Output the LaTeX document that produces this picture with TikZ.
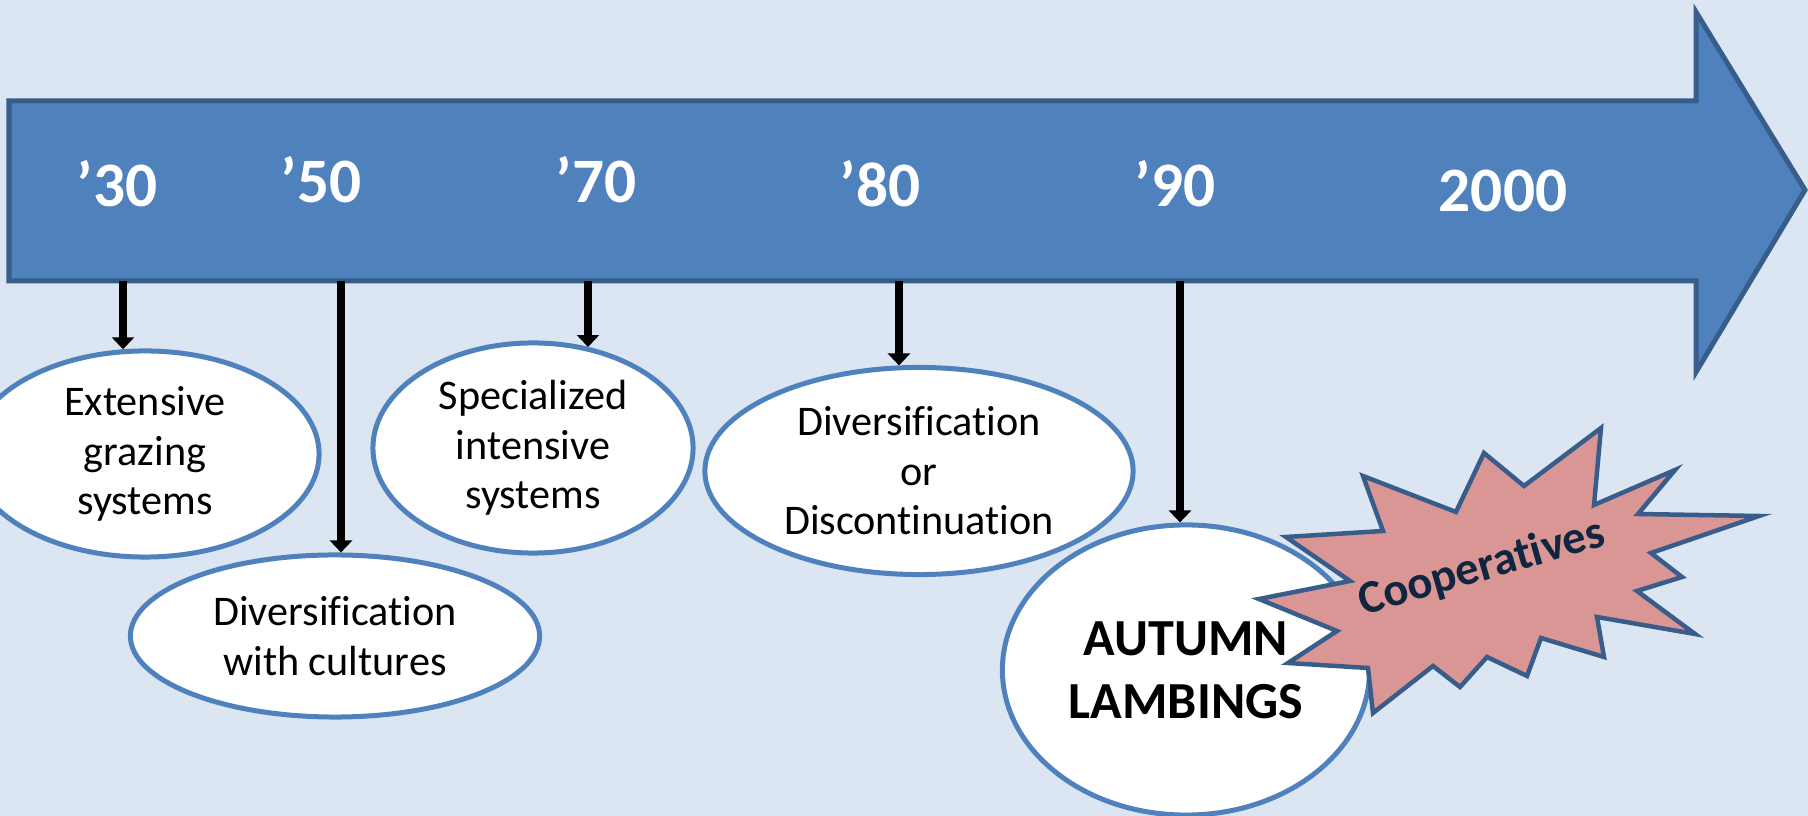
\documentclass[tikz,border=0pt]{standalone}
\usepackage{fontspec}
\setmainfont{Carlito}[Ligatures=NoCommon]
\usetikzlibrary{shapes.geometric,arrows.meta}
\definecolor{pagebg}{HTML}{DCE6F2}
\definecolor{barblue}{HTML}{4F81BD}
\definecolor{bardark}{HTML}{385D8A}
\definecolor{burstred}{HTML}{D99694}
\definecolor{navytext}{HTML}{10253F}

\begin{document}
\begin{tikzpicture}[x=0.01cm,y=-0.01cm,
  year/.style={anchor=base,text=white,font=\fontsize{18}{18}\selectfont\bfseries},
  period/.style={ellipse,draw=barblue,line width=0.05cm,fill=white,inner sep=0pt,
    align=center,font=\fontsize{12}{14.1}\selectfont},
  drop/.style={line width=0.08cm,-{Triangle[length=0.12cm,width=0.22cm]}}]
\fill[pagebg] (0,0) rectangle (1808,816);
\useasboundingbox (0,0) rectangle (1808,816);
% time arrow
\draw[fill=barblue,draw=bardark,line width=0.05cm]
  (9,101) -- (1696,101) -- (1696,12) -- (1805,190) -- (1696,372) -- (1696,281) -- (9,281) -- cycle;
\node[year] (y30) at (117,207) {’30};
\node[year] (y50) at (321,203) {’50};
\node[year] (y70) at (596,203) {’70};
\node[year] (y80) at (880,207) {’80};
\node[year] (y90) at (1175,207) {’90};
\node[year] (y00) at (1503,212) {2000};
\coordinate (t30) at (123,281);
\coordinate (t50) at (341,281);
\coordinate (t70) at (588,281);
\coordinate (t80) at (899,281);
\coordinate (t90) at (1180,281);
% periods
\node[period,minimum width=3.48cm,minimum height=2.06cm] (e30) at (145,454) {Extensive\\grazing\\systems};
\node[period,minimum width=4.09cm,minimum height=1.62cm] (e50) at (335,636) {Diversification\\with cultures};
\node[period,minimum width=3.20cm,minimum height=2.10cm] (e70) at (533,448) {Specialized\\intensive\\systems};
\node[period,minimum width=4.28cm,minimum height=2.07cm] (e80) at (919,471) {Diversification\\or\\Discontinuation};
\node[period,minimum width=3.67cm,minimum height=2.90cm,font=\fontsize{14.8}{18}\selectfont\bfseries] (e90) at (1186,670) {AUTUMN\\LAMBINGS};
\draw[drop] (t30) -- (t30 |- e30.102);
\draw[drop] (t50) -- (t50 |- e50.north);
\draw[drop] (t70) -- (t70 |- e70.61);
\draw[drop] (t80) -- (t80 |- e80.101);
\draw[drop] (t90) -- (t90 |- e90.north);
% burst
\draw[fill=burstred,draw=bardark,line width=0.045cm]
  (1259,599) -- (1350,581) -- (1286,537) -- (1383,531) -- (1363,476) -- (1456,512)
  -- (1484,453) -- (1524,486) -- (1601,428) -- (1594,505) -- (1675,470) -- (1638,514)
  -- (1759,516) -- (1651,553) -- (1682,577) -- (1637,591) -- (1695,634) -- (1597,617)
  -- (1604,657) -- (1541,638) -- (1527,676) -- (1487,657) -- (1460,687) -- (1433,666)
  -- (1373,713) -- (1368,668) -- (1288,663) -- (1337,631) -- cycle;
\node[rotate=16,text=navytext,font=\fontsize{13.3}{13.3}\selectfont\bfseries] (coop) at (1482,568) {Cooperatives};
\end{tikzpicture}
\end{document}
